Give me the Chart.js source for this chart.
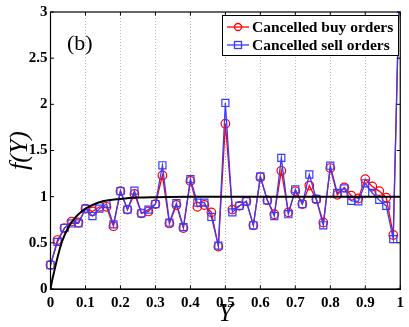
<!DOCTYPE html>
<html><head><meta charset="utf-8">
<script src="https://cdn.jsdelivr.net/npm/chart.js@4/dist/chart.umd.min.js"></script>
<style>html,body{margin:0;padding:0;background:#fff;overflow:hidden;}</style>
</head><body>
<canvas id="c" width="409" height="327"></canvas>
<script>
const yPositions = [0,0.02,0.04,0.06,0.08,0.10,0.12,0.14,0.16,0.18,0.20,0.22,0.24,0.26,0.28,0.30,0.32,0.34,0.36,0.38,0.40,0.42,0.44,0.46,0.48,0.50,0.52,0.54,0.56,0.58,0.60,0.62,0.64,0.66,0.68,0.70,0.72,0.74,0.76,0.78,0.80,0.82,0.84,0.86,0.88,0.90,0.92,0.94,0.96,0.98,1.00];
const buyValues = [0.26,0.53,0.66,0.73,0.72,0.87,0.84,0.89,0.89,0.68,1.06,0.86,1.03,0.82,0.84,0.92,1.23,0.71,0.91,0.66,1.17,0.89,0.91,0.83,0.46,1.79,0.86,0.90,0.95,0.69,1.21,0.96,0.81,1.28,0.83,1.06,0.92,1.12,0.97,0.72,1.31,1.02,1.10,1.01,0.98,1.19,1.11,1.06,0.99,0.585,3.7];
const sellValues = [0.26,0.51,0.66,0.71,0.71,0.87,0.79,0.87,0.92,0.70,1.06,0.86,1.065,0.82,0.86,0.92,1.34,0.72,0.93,0.67,1.19,0.935,0.935,0.78,0.47,2.015,0.83,0.90,0.95,0.69,1.22,0.96,0.79,1.42,0.81,1.08,0.92,1.24,0.975,0.69,1.335,1.04,1.09,0.955,0.95,1.145,1.04,0.965,0.90,0.54,3.7];
const fitPositions = [0,0.005,0.01,0.02,0.03,0.04,0.05,0.06,0.07,0.08,0.10,0.12,0.15,0.20,0.25,0.30,0.40,0.50,0.60,0.70,0.80,0.90,1.00];
const fitValues = [0,0.10,0.18,0.34,0.48,0.58,0.66,0.72,0.77,0.81,0.87,0.91,0.95,0.975,0.99,0.995,1,1,1,1,1,1,1];
const seriesLabels = ['Cancelled buy orders','Cancelled sell orders'];
const xTickValues = [0,0.1,0.2,0.3,0.4,0.5,0.6,0.7,0.8,0.9,1];
const xTickLabels = ['0','0.1','0.2','0.3','0.4','0.5','0.6','0.7','0.8','0.9','1'];
const yTickValues = [0,0.5,1,1.5,2,2.5,3];
const yTickLabels = ['0','0.5','1','1.5','2','2.5','3'];
const panelLabel = '(b)';
const xTitle = 'Y';
const yTitle = 'f(Y)';

const SERIF = '"Liberation Serif", "Times New Roman", serif';
const RED = '#ff0000';
const BLUE = '#3a3aff';

function pairs(xs, ys){ return xs.map((x,i)=>({x:x, y:ys[i]})); }

const framePlugin = {
  id:'frame',
  afterDraw(chart){
    const ctx = chart.ctx, a = chart.chartArea;
    const xs = chart.scales.x, ys = chart.scales.y;
    ctx.save();
    ctx.strokeStyle = '#000'; ctx.lineWidth = 1.2;
    ctx.strokeRect(a.left, a.top, a.right - a.left, a.bottom - a.top);
    ctx.lineWidth = 1;
    const tl = 3.5;
    xTickValues.forEach(v=>{
      const px = xs.getPixelForValue(v);
      ctx.beginPath();
      ctx.moveTo(px, a.bottom); ctx.lineTo(px, a.bottom - tl);
      ctx.moveTo(px, a.top); ctx.lineTo(px, a.top + tl);
      ctx.stroke();
    });
    yTickValues.forEach(v=>{
      const py = ys.getPixelForValue(v);
      ctx.beginPath();
      ctx.moveTo(a.left, py); ctx.lineTo(a.left + tl, py);
      ctx.moveTo(a.right, py); ctx.lineTo(a.right - tl, py);
      ctx.stroke();
    });
    ctx.fillStyle = '#000';
    ctx.font = '22px ' + SERIF;
    ctx.textBaseline = 'middle'; ctx.textAlign = 'left';
    ctx.fillText(panelLabel, 67, 44);
    const lx = 222, ly = 15, lw = 176, lh = 40;
    ctx.fillStyle = '#fff';
    ctx.fillRect(lx, ly, lw, lh);
    ctx.strokeStyle = '#000'; ctx.lineWidth = 1;
    ctx.strokeRect(lx + 0.5, ly + 0.5, lw, lh);
    const dsets = chart.data.datasets.slice(0,2);
    const rows = [27, 45];
    dsets.forEach((ds,i)=>{
      const y = rows[i];
      ctx.strokeStyle = ds.borderColor; ctx.lineWidth = 1.3;
      ctx.beginPath(); ctx.moveTo(227, y); ctx.lineTo(249, y); ctx.stroke();
      if (ds.pointStyle === 'circle'){
        ctx.beginPath(); ctx.arc(238, y, 3.5, 0, Math.PI*2); ctx.stroke();
      } else {
        ctx.strokeRect(234.5, y-3.5, 7, 7);
      }
      ctx.fillStyle = '#000';
      ctx.font = 'bold 15.5px ' + SERIF;
      ctx.textAlign = 'left'; ctx.textBaseline = 'middle';
      ctx.fillText(ds.label, 252, y + 1);
    });
    ctx.restore();
  }
};

new Chart(document.getElementById('c'), {
  type:'line',
  data:{
    datasets:[
      {label:seriesLabels[0], data:pairs(yPositions, buyValues), borderColor:RED, backgroundColor:'rgba(0,0,0,0)',
       borderWidth:1.3, pointStyle:'circle', pointRadius:4.3, pointBorderWidth:1.2, pointBorderColor:RED,
       pointBackgroundColor:'rgba(0,0,0,0)', tension:0, order:2, clip:{left:8,right:8,top:0,bottom:8}},
      {label:seriesLabels[1], data:pairs(yPositions, sellValues), borderColor:BLUE, backgroundColor:'rgba(0,0,0,0)',
       borderWidth:1.3, pointStyle:'rect', pointRadius:5, pointBorderWidth:1.2, pointBorderColor:BLUE,
       pointBackgroundColor:'rgba(0,0,0,0)', tension:0, order:1, clip:{left:8,right:8,top:0,bottom:8}},
      {label:'fit', data:pairs(fitPositions, fitValues), borderColor:'#000', borderWidth:2,
       pointRadius:0, cubicInterpolationMode:'monotone', order:0, clip:0}
    ]
  },
  options:{
    responsive:false, animation:false, devicePixelRatio:1,
    layout:{padding:{top:11, right:7, left:0, bottom:0}},
    plugins:{legend:{display:false}, tooltip:{enabled:false}},
    scales:{
      x:{type:'linear', min:0, max:1,
        afterBuildTicks(s){ s.ticks = xTickValues.map(v=>({value:v})); },
        afterFit(s){ s.height = 38; },
        ticks:{autoSkip:false, maxRotation:0, padding:5, color:'#000',
          font:{family:SERIF, size:15, weight:'bold'},
          callback:(v)=>{ const i = xTickValues.indexOf(v); return i>=0 ? xTickLabels[i] : ''; }},
        grid:{color:'#b5b5b5', lineWidth:1, drawTicks:false},
        border:{display:true, color:'#000', dash:[1,2]},
        title:{display:true, text:xTitle, color:'#000', padding:{top:0,bottom:0},
          font:{family:SERIF, size:25, style:'italic', lineHeight:1.0}}
      },
      y:{type:'linear', min:0, max:3,
        afterBuildTicks(s){ s.ticks = yTickValues.map(v=>({value:v})); },
        afterFit(s){ s.width = 50.5; },
        ticks:{padding:3, color:'#000',
          font:{family:SERIF, size:15, weight:'bold'},
          callback:(v)=>{ const i = yTickValues.indexOf(v); return i>=0 ? yTickLabels[i] : ''; }},
        grid:{display:false, drawTicks:false},
        border:{display:true, color:'#000'},
        title:{display:true, text:yTitle, color:'#000', padding:{top:5,bottom:0},
          font:{family:SERIF, size:26, style:'italic', lineHeight:1.2}}
      }
    }
  },
  plugins:[framePlugin]
});
</script>
</body></html>
